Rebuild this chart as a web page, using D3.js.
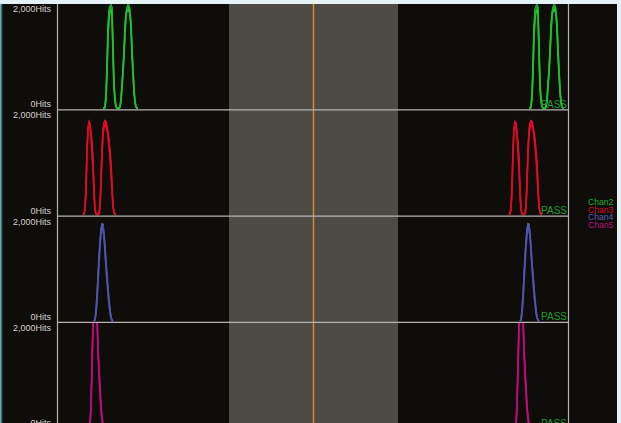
<!DOCTYPE html>
<html>
<head>
<meta charset="utf-8">
<script src="https://cdn.jsdelivr.net/npm/d3@7"></script>
<style>
  html, body { margin: 0; padding: 0; background: #e4f1f5; }
  svg { display: block; }
  text { font-family: "Liberation Sans", Arial, sans-serif; }
</style>
</head>
<body>
<svg id="chart" width="621" height="423"></svg>
<script>
// Channels shown, one strip each, top to bottom
const channels = ["Chan2", "Chan3", "Chan4", "Chan5"];
const channelColors = ["#1fae2c", "#d0082a", "#5b5bb4", "#b50f78"];
const traceColors = [
  ["#2bd23a", "#14a022", "#22c030"],
  ["#f21234", "#c4001f", "#e00a2a"],
  ["#6262c4", "#40409a", "#5252b0"],
  ["#d4128e", "#a2006a", "#c00c7c"]
];
const statusLabels = ["PASS", "PASS", "PASS", "PASS"];

// Hits axis
const hitsMax = 2000;
const hitsTicks = [0, 2000];

// Time axis (samples), pulse repetition period and gate window
const sampleRange = [0, 510];
const pulsePeriod = 426;
const gateWindow = [171, 340];
const gateMarker = 255;

// Pulse histograms: first sample index and hit counts per sample (three sweeps each)
const chan2Start = 45;
const chan2Sweeps = [
  [0,0,50,300,900,1600,1900,1980,2000,1950,1300,500,200,40,0,0,0,30,200,500,750,1150,1600,1850,1950,2000,1950,1850,1500,1000,650,300,100,20,0,0],
  [0,0,20,150,600,1300,1800,1960,1990,1700,900,350,120,20,0,0,0,10,120,380,650,1000,1400,1750,1920,1980,1990,1900,1700,1200,800,420,150,40,0,0],
  [0,0,10,200,700,1450,1700,1850,1920,1800,1100,420,150,30,0,0,0,20,150,420,700,1050,1500,1800,1900,1880,1960,1800,1600,1150,700,350,120,30,0,0]
];
const chan3Start = 25;
const chan3Sweeps = [
  [0,20,150,600,1300,1700,1800,1760,1600,1400,1100,500,120,20,0,0,30,200,700,1300,1650,1780,1820,1800,1720,1600,1450,1250,1000,600,200,50,0,0],
  [0,10,80,400,1100,1600,1750,1700,1450,1150,800,350,80,10,0,0,15,120,500,1100,1500,1700,1780,1760,1650,1480,1300,1050,750,400,120,30,0,0],
  [0,15,100,500,1200,1650,1700,1720,1550,1250,950,420,100,15,0,0,20,150,600,1200,1550,1740,1700,1790,1680,1550,1380,1150,880,500,150,40,0,0]
];
const chan4Start = 36;
const chan4Sweeps = [
  [0,30,220,500,900,1250,1550,1780,1880,1870,1700,1450,1150,900,650,420,230,80,20,0],
  [0,10,120,350,700,1050,1400,1650,1800,1820,1600,1300,1000,750,500,300,140,40,10,0],
  [0,20,160,420,820,1150,1500,1700,1860,1760,1650,1350,1080,820,580,360,180,60,15,0]
];
const chan5Start = 30;
const chan5Sweeps = [
  [0,0,60,500,1300,2100,2500,2600,2550,2200,1600,1150,800,450,200,60,0,0],
  [0,0,20,300,1000,1800,2300,2500,2450,2050,1400,950,600,300,120,30,0,0],
  [0,0,40,400,1150,1950,2400,2550,2500,2100,1500,1050,700,380,160,40,0,0]
];

const channelStarts = [chan2Start, chan3Start, chan4Start, chan5Start];
const channelSweeps = [chan2Sweeps, chan3Sweeps, chan4Sweeps, chan5Sweeps];

// ---- layout ----
const W = 621, H = 423;
const plotLeft = 58, plotRight = 568;
const stripTop = 4, stripH = 106.3;

const svg = d3.select("#chart");

// left edge glow of the window frame
const grad = svg.append("defs").append("linearGradient").attr("id", "edge")
  .attr("x1", 0).attr("x2", 1).attr("y1", 0).attr("y2", 0);
grad.append("stop").attr("offset", 0).attr("stop-color", "#7fc6d6");
grad.append("stop").attr("offset", 1).attr("stop-color", "#0f0d0a");

// dark canvas
svg.append("rect").attr("x", 0).attr("y", 4).attr("width", 617).attr("height", H - 4)
  .attr("fill", "#0f0d0a");
svg.append("rect").attr("x", 0).attr("y", 4).attr("width", 3).attr("height", H - 4)
  .attr("fill", "url(#edge)");

const x = d3.scaleLinear().domain(sampleRange).range([plotLeft, plotRight]);

// gate window and marker
svg.append("rect")
  .attr("x", x(gateWindow[0])).attr("y", stripTop)
  .attr("width", x(gateWindow[1]) - x(gateWindow[0])).attr("height", H - stripTop)
  .attr("fill", "#4e4b47");
svg.append("line")
  .attr("x1", x(gateMarker) + 0.5).attr("x2", x(gateMarker) + 0.5)
  .attr("y1", stripTop).attr("y2", H)
  .attr("stroke", "#e58a25").attr("stroke-width", 1.4);

const defs = svg.append("defs");

channels.forEach((name, i) => {
  const top = stripTop + i * stripH;
  const bottom = top + stripH;
  const y = d3.scaleLinear().domain([0, hitsMax]).range([bottom - 2, top + 1]);

  defs.append("clipPath").attr("id", "clip" + i)
    .append("rect").attr("x", plotLeft).attr("y", top)
    .attr("width", plotRight - plotLeft).attr("height", bottom - top - 1);

  const g = svg.append("g").attr("clip-path", `url(#clip${i})`);
  const line = d3.line().x(d => x(d[0])).y(d => y(d[1]));

  // each pulse appears once per repetition period
  [0, pulsePeriod].forEach(offset => {
    channelSweeps[i].forEach((sweep, k) => {
      const pts = sweep.map((v, j) => [channelStarts[i] + j + offset, v]);
      g.append("path").datum(pts)
        .attr("d", line)
        .attr("fill", "none")
        .attr("stroke", traceColors[i][k])
        .attr("stroke-width", 1.5)
        .attr("stroke-linejoin", "miter");
    });
  });

  // strip separator
  svg.append("line")
    .attr("x1", plotLeft - 1).attr("x2", plotRight)
    .attr("y1", bottom - 0.5).attr("y2", bottom - 0.5)
    .attr("stroke", "#b4b4b4").attr("stroke-width", 1.2);

  // hits axis
  const axis = d3.axisLeft(y).tickValues(hitsTicks).tickSize(0)
    .tickFormat(d => d3.format(",")(d) + "Hits");
  const ag = svg.append("g").attr("transform", `translate(${plotLeft - 4},0)`).call(axis);
  ag.select(".domain").remove();
  ag.selectAll("text")
    .attr("fill", "#cfcfcf")
    .attr("font-size", 9)
    .attr("font-family", "Liberation Sans, Arial, sans-serif")
    .attr("dy", d => d === 0 ? "-0.15em" : "0.72em");

  // status
  svg.append("text")
    .attr("x", plotRight - 1).attr("y", bottom - 2.5)
    .attr("text-anchor", "end")
    .attr("font-size", 10)
    .attr("fill", "#1e9c36")
    .text(statusLabels[i]);
});

// plot frame verticals
svg.append("line").attr("x1", plotLeft - 0.5).attr("x2", plotLeft - 0.5)
  .attr("y1", stripTop).attr("y2", H).attr("stroke", "#b4b4b4").attr("stroke-width", 1.2);
svg.append("line").attr("x1", plotRight + 0.5).attr("x2", plotRight + 0.5)
  .attr("y1", stripTop).attr("y2", H).attr("stroke", "#b4b4b4").attr("stroke-width", 1.2);

// legend
svg.append("g").selectAll("text").data(channels).join("text")
  .attr("x", 588)
  .attr("y", (d, i) => 205 + i * 7.5)
  .attr("font-size", 8.6)
  .attr("fill", (d, i) => channelColors[i])
  .text(d => d);
</script>
</body>
</html>
